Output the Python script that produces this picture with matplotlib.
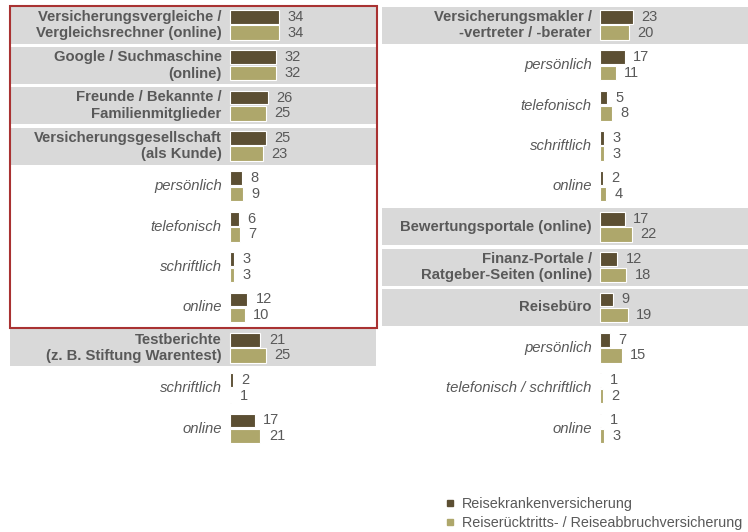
import matplotlib
matplotlib.use("Agg")
import matplotlib.pyplot as plt
from matplotlib.lines import Line2D
from matplotlib.patches import Rectangle

plt.rcParams["font.family"] = ["Liberation Sans", "DejaVu Sans"]

# linke Spalte
left_labels = ["Versicherungsvergleiche /\nVergleichsrechner (online)",
               "Google / Suchmaschine\n(online)",
               "Freunde / Bekannte /\nFamilienmitglieder",
               "Versicherungsgesellschaft\n(als Kunde)",
               "persönlich", "telefonisch", "schriftlich", "online",
               "Testberichte\n(z. B. Stiftung Warentest)",
               "schriftlich", "online"]
left_main = [True, True, True, True, False, False, False, False, True, False, False]
left_kranken = [34, 32, 26, 25, 8, 6, 3, 12, 21, 2, 17]
left_ruecktritt = [34, 32, 25, 23, 9, 7, 3, 10, 25, 1, 21]

# rechte Spalte
right_labels = ["Versicherungsmakler /\n-vertreter / -berater",
                "persönlich", "telefonisch", "schriftlich", "online",
                "Bewertungsportale (online)",
                "Finanz-Portale /\nRatgeber-Seiten (online)",
                "Reisebüro",
                "persönlich", "telefonisch / schriftlich", "online"]
right_main = [True, False, False, False, False, True, True, True, False, False, False]
right_kranken = [23, 17, 5, 3, 2, 17, 12, 9, 7, 1, 1]
right_ruecktritt = [20, 11, 8, 3, 4, 22, 18, 19, 15, 2, 3]

series_names = ["Reisekrankenversicherung",
                "Reiserücktritts- / Reiseabbruchversicherung"]

DARK = "#5c4f33"
LIGHT = "#aea76b"
BAND = "#d9d9d9"
TXT = "#595959"
W, H = 748, 532
K = 1.45  # px pro Prozentpunkt


def panel(x0, x1, zero, labels, main, v1, v2):
    top, bot = 4.8, 448.7
    ax = fig.add_axes([x0 / W, 1 - bot / H, (x1 - x0) / W, (bot - top) / H])
    ax.set_xlim((x0 - zero) / K, (x1 - zero) / K)
    n = len(labels)
    ax.set_ylim(n - 0.5, -0.5)
    ax.axis("off")
    for i, m in enumerate(main):
        if m:
            ax.axhspan(i - 0.455, i + 0.46, color=BAND, lw=0, zorder=0)
    ys = range(n)
    ax.barh([y - 0.2 for y in ys], v1, height=0.34, align="center",
            color=DARK, edgecolor="white", lw=0.8, zorder=2)
    ax.barh([y + 0.19 for y in ys], v2, height=0.36, align="center",
            color=LIGHT, edgecolor="white", lw=0.8, zorder=2)
    for i, (lab, m) in enumerate(zip(labels, main)):
        ax.annotate(lab, (0, i), xytext=(-6, 0), textcoords="offset points",
                    ha="right", va="center", fontsize=10.7, color=TXT,
                    fontweight="bold" if m else "normal",
                    fontstyle="normal" if m else "italic", linespacing=1.22)
        ax.annotate(str(v1[i]), (v1[i], i - 0.2), xytext=(6, 0),
                    textcoords="offset points", ha="left", va="center",
                    fontsize=10.5, color=TXT)
        ax.annotate(str(v2[i]), (v2[i], i + 0.19), xytext=(6, 0),
                    textcoords="offset points", ha="left", va="center",
                    fontsize=10.5, color=TXT)
    return ax


fig = plt.figure(figsize=(W / 100, H / 100), dpi=100)
panel(10, 376, 230, left_labels, left_main, left_kranken, left_ruecktritt)
panel(382, 748, 600, right_labels, right_main, right_kranken, right_ruecktritt)

# roter Rahmen
fig.add_artist(Rectangle((9.5 / W, 1 - 327.5 / H), (376.5 - 9.5) / W, (327.5 - 5.5) / H,
                         transform=fig.transFigure, fill=False,
                         edgecolor="#a93232", lw=1.5))

handles = [Line2D([], [], marker="s", ls="", color=DARK, markersize=5),
           Line2D([], [], marker="s", ls="", color=LIGHT, markersize=5)]
fig.legend(handles, series_names, loc="upper left",
           bbox_to_anchor=(437 / W, 1 - 490 / H), frameon=False,
           fontsize=10.4, labelcolor=TXT, handlelength=0.8, handletextpad=0.45,
           labelspacing=0.3, borderpad=0)

fig.savefig("out.png", dpi=100)
